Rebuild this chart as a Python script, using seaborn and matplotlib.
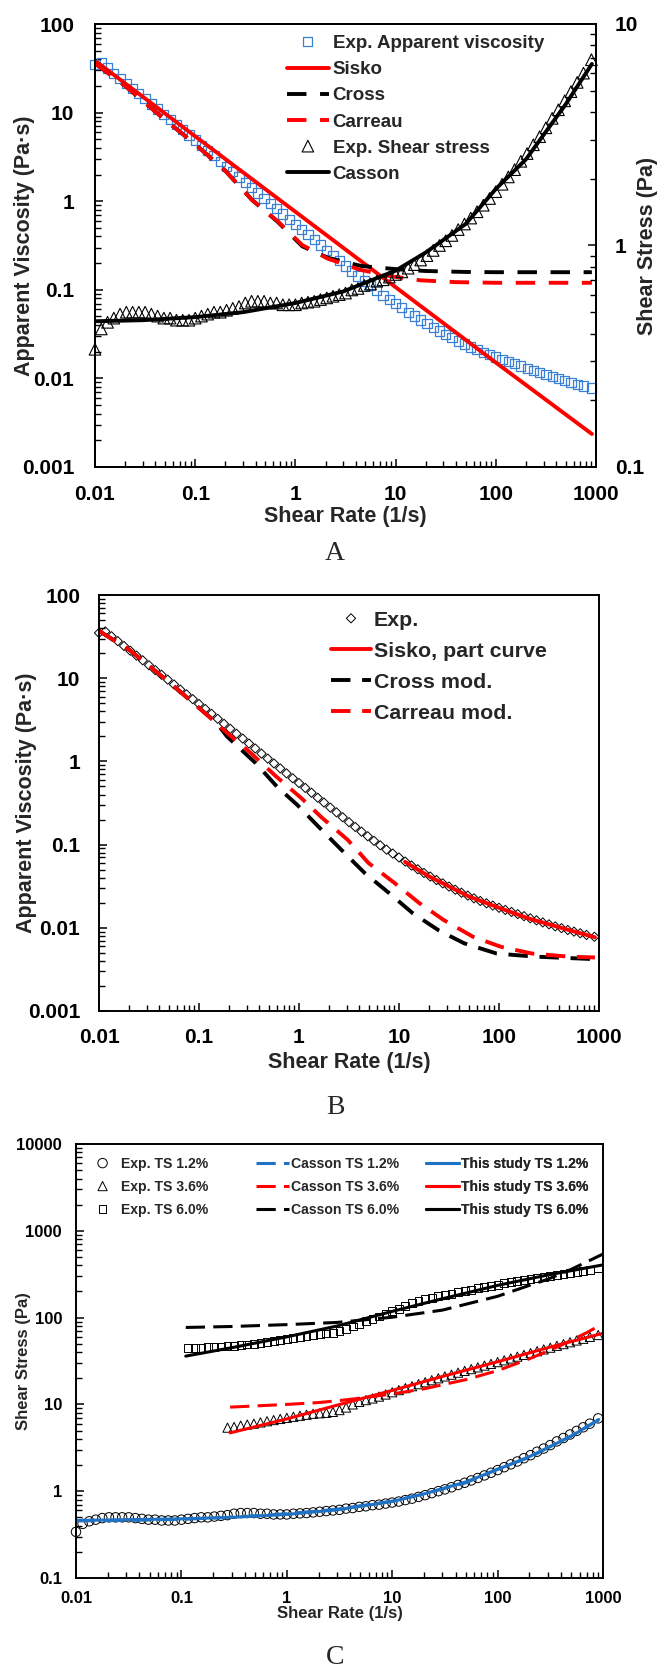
import matplotlib
matplotlib.use("Agg")
import matplotlib.pyplot as plt
import numpy as np
import seaborn as sns

sns.set_style("white")
plt.rcParams["font.family"] = ["Liberation Sans", "DejaVu Sans"]
plt.rcParams["font.weight"] = "bold"
plt.rcParams["axes.labelweight"] = "bold"
plt.rcParams["axes.edgecolor"] = "black"
plt.rcParams["axes.linewidth"] = 1.4

# ---------------- data ----------------
# measured shear rates (1/s), used by every experimental series
shear_rate = [0.01, 0.01155, 0.01334, 0.0154, 0.01778, 0.02054, 0.02371, 0.02738,
              0.03162, 0.03652, 0.04217, 0.0487, 0.05623, 0.06494, 0.07499, 0.0866,
              0.1, 0.1155, 0.1334, 0.154, 0.1778, 0.2054, 0.2371, 0.2738,
              0.3162, 0.3652, 0.4217, 0.487, 0.5623, 0.6494, 0.7499, 0.866,
              1, 1.155, 1.334, 1.54, 1.778, 2.054, 2.371, 2.738,
              3.162, 3.652, 4.217, 4.87, 5.623, 6.494, 7.499, 8.66,
              10, 11.55, 13.34, 15.4, 17.78, 20.54, 23.71, 27.38,
              31.62, 36.52, 42.17, 48.7, 56.23, 64.94, 74.99, 86.6,
              100, 115.5, 133.4, 154, 177.8, 205.4, 237.1, 273.8,
              316.2, 365.2, 421.7, 487, 562.3, 649.4, 749.9, 900]
exp_viscosity = [35, 36.5, 31.9, 27.9, 24.4, 21.4, 18.7, 16.4,
                 14.3, 12.5, 11.0, 9.6, 8.4, 7.3, 6.4, 5.6,
                 4.9, 4.27, 3.73, 3.25, 2.83, 2.47, 2.15, 1.88,
                 1.64, 1.43, 1.24, 1.08, 0.945, 0.824, 0.718, 0.627,
                 0.55, 0.48, 0.42, 0.366, 0.32, 0.279, 0.244, 0.213,
                 0.186, 0.163, 0.143, 0.126, 0.111, 0.098, 0.087, 0.078,
                 0.07, 0.0625, 0.056, 0.0505, 0.0456, 0.0413, 0.0375, 0.0342,
                 0.0313, 0.0287, 0.0264, 0.0244, 0.0226, 0.021, 0.0197, 0.0185,
                 0.0174, 0.0164, 0.0155, 0.0146, 0.0138, 0.013, 0.0123, 0.0116,
                 0.011, 0.0104, 0.0099, 0.0094, 0.009, 0.0086, 0.0082, 0.0078]
exp_stress = [0.34, 0.42, 0.45, 0.47, 0.49, 0.50, 0.50, 0.50,
              0.50, 0.49, 0.48, 0.47, 0.47, 0.46, 0.46, 0.46,
              0.47, 0.48, 0.49, 0.50, 0.50, 0.51, 0.52, 0.53,
              0.55, 0.56, 0.56, 0.56, 0.55, 0.55, 0.54, 0.54,
              0.54, 0.55, 0.555, 0.56, 0.57, 0.58, 0.59, 0.60,
              0.61, 0.63, 0.64, 0.66, 0.67, 0.69, 0.70, 0.72,
              0.74, 0.76, 0.79, 0.82, 0.86, 0.90, 0.95, 1.00,
              1.05, 1.11, 1.18, 1.25, 1.33, 1.42, 1.52, 1.63,
              1.75, 1.89, 2.04, 2.2, 2.4, 2.6, 2.85, 3.1,
              3.4, 3.75, 4.1, 4.5, 4.95, 5.45, 6.0, 6.9]

# panel A model curves
sisko_rate = [0.0105, 0.1, 1, 10, 100, 910]
sisko_visc = [37, 5.4, 0.76, 0.107, 0.0151, 0.00236]
cross_rate = [0.01, 0.02, 0.05, 0.1, 0.2, 0.37, 0.66, 1.17, 2.1, 4.5, 10.7, 20, 50, 100, 910]
cross_visc = [36, 20, 8.3, 4.4, 2.2, 1.03, 0.59, 0.31, 0.23, 0.186, 0.17, 0.163, 0.159, 0.158, 0.158]
carreau_rate = [0.01, 0.02, 0.05, 0.1, 0.2, 0.37, 0.66, 1.17, 2.1, 4.3, 8, 17.7, 40, 100, 910]
carreau_visc = [36, 20, 8.3, 4.4, 2.2, 1.03, 0.6, 0.32, 0.225, 0.17, 0.145, 0.128, 0.122, 0.12, 0.12]
casson_rate = [0.01, 0.03, 0.1, 0.3, 1, 3, 10, 20, 50, 100, 200, 500, 910]
casson_stress = [0.455, 0.46, 0.475, 0.5, 0.55, 0.62, 0.77, 0.93, 1.25, 1.8, 2.45, 4.35, 6.6]

# panel B model curves
sisko_part_rate = [11.5, 20, 50, 100, 200, 500, 910]
sisko_part_visc = [0.062, 0.0415, 0.0238, 0.0174, 0.0129, 0.0094, 0.0077]
cross_mod_rate = [0.01, 0.02, 0.05, 0.1, 0.15, 0.19, 0.37, 0.6, 0.96, 1.56, 2.64, 4.5, 8, 13.7, 25, 45, 95, 230, 910]
cross_mod_visc = [37, 22, 9, 4.4, 2.9, 2.0, 0.95, 0.5, 0.3, 0.165, 0.087, 0.046, 0.026, 0.015, 0.0093, 0.0065,
                  0.0049, 0.0045, 0.0042]
carreau_mod_rate = [0.01, 0.02, 0.05, 0.1, 0.2, 0.33, 0.59, 1.06, 1.7, 3.07, 4.96, 8.9, 15.8, 28, 55, 105, 215, 500, 910]
carreau_mod_visc = [37, 22, 9, 4.4, 2.1, 1.26, 0.66, 0.36, 0.21, 0.114, 0.06, 0.035, 0.02, 0.0124, 0.0078, 0.0059,
                    0.0049, 0.0045, 0.0044]

# panel C experiments (TS 6.0% starts at 0.1155 1/s, TS 3.6% at 0.2738 1/s)
exp_ts60 = [45, 45, 45, 45.5, 46, 46.5, 47,
            47, 48, 49, 50, 51, 52.5, 54, 55,
            57, 58, 59.5, 61, 62.5, 64, 65.5, 67,
            70, 74, 79, 85, 91, 97, 103, 110,
            118, 126, 136, 146, 155, 163, 170, 177,
            183, 189, 196, 203, 210, 217, 224, 232,
            240, 248, 256, 264, 272, 279, 287, 295,
            303, 312, 320, 329, 338, 347, 356, 368]
exp_ts36 = [5.4,
            5.5, 5.7, 5.85, 6.0, 6.2, 6.4, 6.6, 6.8,
            7.0, 7.2, 7.4, 7.6, 7.8, 7.9, 8.0, 8.2,
            8.6, 9.2, 10.0, 10.7, 11.2, 11.7, 12.3, 13.0,
            13.8, 14.6, 15.4, 16.2, 17.1, 18.0, 19.0, 20.0,
            21.0, 22.0, 23.2, 24.3, 25.5, 26.7, 28, 29.3,
            30.7, 32.2, 33.8, 35.5, 37.2, 39, 41, 43,
            45, 47.3, 49.5, 52, 54.5, 57, 60, 63]

# panel C model curves
casson12_rate = [0.01, 0.03, 0.1, 0.3, 1, 3, 10, 20, 50, 100, 200, 500, 910]
casson12_stress = [0.455, 0.46, 0.475, 0.5, 0.55, 0.62, 0.77, 0.93, 1.25, 1.8, 2.45, 4.35, 6.6]
study12_rate = [0.01, 0.03, 0.1, 0.3, 1, 3, 10, 20, 50, 100, 200, 500, 910]
study12_stress = [0.46, 0.47, 0.48, 0.5, 0.54, 0.61, 0.76, 0.93, 1.28, 1.78, 2.5, 4.3, 6.7]
casson36_rate = [0.29, 0.5, 1, 2, 3, 5, 10, 20, 50, 100, 200, 400, 700, 910]
casson36_stress = [9.3, 9.6, 10.0, 10.5, 11.0, 11.8, 13.2, 15.1, 19.3, 24.5, 33.5, 48, 67, 80]
study36_rate = [0.29, 1, 3, 10, 30, 100, 300, 1000]
study36_stress = [4.7, 6.8, 9.8, 14.5, 21, 31, 45, 66]
casson60_rate = [0.11, 0.3, 1, 3, 10, 30, 100, 200, 300, 500, 1000]
casson60_stress = [77, 79, 83, 88, 101, 122, 176, 235, 277, 360, 540]
study60_rate = [0.11, 0.3, 1, 3, 10, 30, 100, 300, 1000]
study60_stress = [36, 45, 60, 80, 118, 165, 235, 310, 405]

rate_ticks = [0.01, 0.1, 1, 10, 100, 1000]
rate_labels = ["0.01", "0.1", "1", "10", "100", "1000"]
visc_ticks = [0.001, 0.01, 0.1, 1, 10, 100]
visc_labels = ["0.001", "0.01", "0.1", "1", "10", "100"]
stress_a_ticks = [0.1, 1, 10]
stress_a_labels = ["0.1", "1", "10"]
stress_c_ticks = [0.1, 1, 10, 100, 1000, 10000]
stress_c_labels = ["0.1", "1", "10", "100", "1000", "10000"]

RED = "#ff0000"
SQ_BLUE = "#3a80d6"
BLUE = "#1f72c4"

W, H = 657, 1667
fig = plt.figure(figsize=(W / 100, H / 100), dpi=100)


def add_axes(left, top, right, bottom):
    return fig.add_axes([left / W, 1 - bottom / H, (right - left) / W, (bottom - top) / H])


def log_minor(axis):
    axis.set_minor_locator(matplotlib.ticker.LogLocator(base=10, subs=np.arange(2, 10), numticks=40))
    axis.set_minor_formatter(matplotlib.ticker.NullFormatter())


def setup(ax, yticks, ylabels, size, xpad, ypad):
    ax.set_xscale("log")
    ax.set_yscale("log")
    ax.set_xlim(rate_ticks[0], rate_ticks[-1])
    ax.set_ylim(yticks[0], yticks[-1])
    ax.set_xticks(rate_ticks, labels=rate_labels)
    ax.set_yticks(yticks, labels=ylabels)
    log_minor(ax.xaxis)
    log_minor(ax.yaxis)
    ax.tick_params(which="both", direction="in", bottom=True, left=True, top=False, right=False, colors="black")
    ax.tick_params(which="major", length=6, width=1.1, labelsize=size)
    ax.tick_params(which="minor", length=4, width=1.0)
    ax.tick_params(axis="x", pad=xpad)
    ax.tick_params(axis="y", pad=ypad)
    for sp in ax.spines.values():
        sp.set_linewidth(1.4)
        sp.set_color("black")


def ordered(axes_list, labels):
    found = {}
    for a in axes_list:
        for h, l in zip(*a.get_legend_handles_labels()):
            found[l] = h
    return [found[l] for l in labels], labels


# ---------------- panel A ----------------
ax_a = add_axes(95, 24, 596, 467)
setup(ax_a, visc_ticks, visc_labels, 15, 13, 15)
sns.scatterplot(x=shear_rate, y=exp_viscosity, ax=ax_a, marker="s", s=44, facecolor="none",
                edgecolor=SQ_BLUE, linewidth=0.9, clip_on=False, legend=False, label="Exp. Apparent viscosity")
sns.lineplot(x=sisko_rate, y=sisko_visc, ax=ax_a, color=RED, lw=2.8, legend=False, label="Sisko")
sns.lineplot(x=cross_rate, y=cross_visc, ax=ax_a, color="black", lw=2.8, linestyle=(0, (5, 3.5)),
             legend=False, label="Cross")
sns.lineplot(x=carreau_rate, y=carreau_visc, ax=ax_a, color=RED, lw=2.8, linestyle=(0, (5, 3.5)),
             legend=False, label="Carreau")
ax_a.set_xlabel("Shear Rate (1/s)", fontsize=15.5)
ax_a.set_ylabel("Apparent Viscosity (Pa·s)", fontsize=15.5)
ax_a.xaxis.set_label_coords(0.5, -0.088)
ax_a.yaxis.set_label_coords(-0.12, 0.5)

ax_a2 = ax_a.twinx()
ax_a2.set_yscale("log")
ax_a2.set_ylim(stress_a_ticks[0], stress_a_ticks[-1])
ax_a2.set_yticks(stress_a_ticks, labels=stress_a_labels)
log_minor(ax_a2.yaxis)
ax_a2.tick_params(axis="y", which="both", direction="in", right=True, left=False, colors="black", pad=13.5)
ax_a2.tick_params(axis="y", which="major", length=6, width=1.1, labelsize=15)
ax_a2.tick_params(axis="y", which="minor", length=4, width=1.0)
sns.scatterplot(x=shear_rate, y=exp_stress, ax=ax_a2, marker="^", s=70, facecolor="none",
                edgecolor="black", linewidth=0.8, clip_on=False, legend=False, label="Exp. Shear stress")
sns.lineplot(x=casson_rate, y=casson_stress, ax=ax_a2, color="black", lw=2.8, legend=False, label="Casson")
ax_a2.set_ylabel("Shear Stress (Pa)", fontsize=15.5)
ax_a2.yaxis.set_label_coords(1.082, 0.5)

h, l = ordered([ax_a, ax_a2], ["Exp. Apparent viscosity", "Sisko", "Cross", "Carreau",
                               "Exp. Shear stress", "Casson"])
ax_a2.legend(h, l, loc="upper left", bbox_to_anchor=(0.383, 0.975), frameon=False, fontsize=13.5,
             handlelength=2.24, handletextpad=0.2, labelspacing=0.48, borderpad=0, borderaxespad=0,
             scatterpoints=1, scatteryoffsets=[0.5])

# ---------------- panel B ----------------
ax_b = add_axes(99, 595, 599, 1011)
setup(ax_b, visc_ticks, visc_labels, 15, 12, 13.5)
sns.scatterplot(x=shear_rate, y=exp_viscosity, ax=ax_b, marker="D", s=22, facecolor="none",
                edgecolor="black", linewidth=0.7, clip_on=False, legend=False, label="Exp.")
sns.lineplot(x=sisko_part_rate, y=sisko_part_visc, ax=ax_b, color=RED, lw=2.8, legend=False,
             label="Sisko, part curve")
sns.lineplot(x=cross_mod_rate, y=cross_mod_visc, ax=ax_b, color="black", lw=2.8, linestyle=(0, (5, 3)),
             legend=False, label="Cross mod.")
sns.lineplot(x=carreau_mod_rate, y=carreau_mod_visc, ax=ax_b, color=RED, lw=2.8, linestyle=(0, (5, 3)),
             legend=False, label="Carreau mod.")
ax_b.set_xlabel("Shear Rate (1/s)", fontsize=15.5)
ax_b.set_ylabel("Apparent Viscosity (Pa·s)", fontsize=15.5)
ax_b.xaxis.set_label_coords(0.5, -0.099)
ax_b.yaxis.set_label_coords(-0.125, 0.5)
h, l = ordered([ax_b], ["Exp.", "Sisko, part curve", "Cross mod.", "Carreau mod."])
ax_b.legend(h, l, loc="upper left", bbox_to_anchor=(0.464, 0.962), frameon=False, fontsize=15.4,
            handlelength=1.87, handletextpad=0.14, labelspacing=0.56, borderpad=0, borderaxespad=0,
            scatterpoints=1, scatteryoffsets=[0.5])

# ---------------- panel C ----------------
ax_c = add_axes(76, 1144, 603, 1578)
setup(ax_c, stress_c_ticks, stress_c_labels, 12, 9.5, 10)
sns.scatterplot(x=shear_rate, y=exp_stress, ax=ax_c, marker="o", s=46, facecolor="none",
                edgecolor="black", linewidth=0.7, clip_on=False, legend=False, label="Exp. TS 1.2%")
sns.scatterplot(x=shear_rate[23:], y=exp_ts36, ax=ax_c, marker="^", s=44, facecolor="none",
                edgecolor="black", linewidth=0.7, clip_on=False, legend=False, label="Exp. TS 3.6%")
sns.scatterplot(x=shear_rate[17:], y=exp_ts60, ax=ax_c, marker="s", s=32, facecolor="none",
                edgecolor="black", linewidth=0.7, clip_on=False, legend=False, label="Exp. TS 6.0%")
dash_c = (0, (6.3, 2.7))
sns.lineplot(x=casson12_rate, y=casson12_stress, ax=ax_c, color=BLUE, lw=2.2, linestyle=dash_c,
             legend=False, label="Casson TS 1.2%")
sns.lineplot(x=casson36_rate, y=casson36_stress, ax=ax_c, color=RED, lw=2.2, linestyle=dash_c,
             legend=False, label="Casson TS 3.6%")
sns.lineplot(x=casson60_rate, y=casson60_stress, ax=ax_c, color="black", lw=2.2, linestyle=dash_c,
             legend=False, label="Casson TS 6.0%")
sns.lineplot(x=study12_rate, y=study12_stress, ax=ax_c, color=BLUE, lw=2.2, legend=False,
             label="This study TS 1.2%")
sns.lineplot(x=study36_rate, y=study36_stress, ax=ax_c, color=RED, lw=2.2, legend=False,
             label="This study TS 3.6%")
sns.lineplot(x=study60_rate, y=study60_stress, ax=ax_c, color="black", lw=2.2, legend=False,
             label="This study TS 6.0%")
ax_c.set_xlabel("Shear Rate (1/s)", fontsize=12)
ax_c.set_ylabel("Shear Stress (Pa)", fontsize=12)
ax_c.xaxis.set_label_coords(0.5, -0.0645)
ax_c.yaxis.set_label_coords(-0.085, 0.5)

columns = [
    (0.019, ["Exp. TS 1.2%", "Exp. TS 3.6%", "Exp. TS 6.0%"]),
    (0.3416, ["Casson TS 1.2%", "Casson TS 3.6%", "Casson TS 6.0%"]),
    (0.664, ["This study TS 1.2%", "This study TS 3.6%", "This study TS 6.0%"]),
]
for x0, labels in columns:
    h, l = ordered([ax_c], labels)
    leg = ax_c.legend(h, l, loc="upper left", bbox_to_anchor=(x0, 0.970), frameon=False, fontsize=10.1,
                      handlelength=2.36, handletextpad=0.15, labelspacing=0.64, borderpad=0,
                      borderaxespad=0, scatterpoints=1, scatteryoffsets=[0.5])
    ax_c.add_artist(leg)

# panel letters
for letter, yc in [("A", 553), ("B", 1108), ("C", 1657)]:
    fig.text(335 / W, 1 - yc / H, letter, ha="center", va="center", fontsize=20,
             family=["Liberation Serif", "DejaVu Serif"], weight="normal")

fig.savefig("out.png", dpi=100, facecolor="white")
